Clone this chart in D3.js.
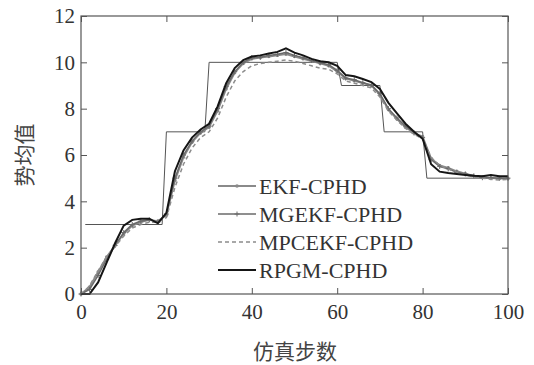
<!DOCTYPE html>
<html><head><meta charset="utf-8">
<script src="https://cdn.jsdelivr.net/npm/d3@7"></script>
<style>body{margin:0;background:#fff}svg{display:block}</style>
</head><body><svg id="c" width="534" height="365"></svg>
<script>
const steps = d3.range(0, 101, 2);
const truthSteps = [1, 19, 20, 29, 30, 60, 61, 70, 71, 80, 81, 100];
const truthVals  = [3, 3, 7, 7, 10, 10, 9, 9, 7, 7, 5, 5];
const ekf = [0.0,0.3,0.95,1.6,2.1,2.6,2.95,3.1,3.2,3.15,3.4,4.9,5.9,6.55,6.95,7.2,7.9,8.85,9.55,9.95,10.15,10.2,10.25,10.3,10.35,10.25,10.15,10.05,9.95,9.85,9.6,9.3,9.2,9.1,9.0,8.6,7.95,7.55,7.2,6.95,6.8,5.85,5.55,5.45,5.3,5.2,5.1,5.05,5.0,4.98,4.98];
const mgekf = [0.0,0.2,0.8,1.5,2.1,2.65,3.0,3.15,3.2,3.1,3.45,5.0,6.0,6.6,7.0,7.25,8.0,8.95,9.6,10.0,10.2,10.22,10.3,10.35,10.42,10.3,10.2,10.08,9.98,9.9,9.65,9.32,9.25,9.12,9.02,8.65,8.0,7.6,7.25,6.95,6.75,5.8,5.5,5.4,5.25,5.18,5.1,5.02,5.02,5.0,5.0];
const mpcekf = [0.0,0.35,1.0,1.6,2.05,2.5,2.85,3.0,3.1,3.1,3.3,4.6,5.6,6.3,6.75,7.0,7.6,8.5,9.2,9.6,9.85,9.95,10.0,10.05,10.1,10.05,9.95,9.85,9.75,9.7,9.5,9.2,9.1,9.0,8.9,8.5,7.9,7.5,7.15,6.9,6.7,5.9,5.55,5.4,5.25,5.15,5.05,5.0,4.95,4.92,4.95];
const rpgm = [0.0,0.0,0.5,1.35,2.2,2.95,3.2,3.25,3.25,3.05,3.5,5.3,6.2,6.75,7.1,7.35,8.1,9.1,9.75,10.1,10.25,10.3,10.38,10.45,10.6,10.42,10.3,10.15,10.05,10.0,9.85,9.45,9.4,9.28,9.15,8.85,8.25,7.8,7.35,7.0,6.7,5.6,5.28,5.22,5.18,5.14,5.1,5.08,5.14,5.08,5.08];
const xTicks = [0, 20, 40, 60, 80, 100];
const yTicks = [0, 2, 4, 6, 8, 10, 12];
const legendNames = ["EKF-CPHD", "MGEKF-CPHD", "MPCEKF-CPHD", "RPGM-CPHD"];

const svg = d3.select("#c");
const L = 81, R = 508, T = 16, B = 294;
const x = d3.scaleLinear().domain([0, 100]).range([L, R]);
const y = d3.scaleLinear().domain([0, 12]).range([B, T]);
const serif = "'Liberation Serif','Times New Roman',serif";
const frameCol = "#555";

function styleAxis(g, showText) {
  g.select(".domain").remove();
  g.selectAll("line").attr("stroke", frameCol).attr("stroke-width", 1);
  if (!showText) g.selectAll("text").remove();
  else g.selectAll("text").attr("font-family", serif).attr("font-size", 21).attr("fill", "#333");
}
svg.append("g").attr("transform", `translate(0,${B})`)
  .call(d3.axisBottom(x).tickValues(xTicks).tickSize(-6).tickPadding(10).tickFormat(d3.format("d")))
  .call(g => styleAxis(g, true));
svg.append("g").attr("transform", `translate(0,${T})`)
  .call(d3.axisTop(x).tickValues(xTicks).tickSize(-6))
  .call(g => styleAxis(g, false));
svg.append("g").attr("transform", `translate(${L},0)`)
  .call(d3.axisLeft(y).tickValues(yTicks).tickSize(-6).tickPadding(6).tickFormat(d3.format("d")))
  .call(g => styleAxis(g, true));
svg.append("g").attr("transform", `translate(${R},0)`)
  .call(d3.axisRight(y).tickValues(yTicks).tickSize(-6))
  .call(g => styleAxis(g, false));

// truth
const truth = truthSteps.map((s, i) => [s, truthVals[i]]);
svg.append("path").datum(truth)
  .attr("d", d3.line().x(d => x(d[0])).y(d => y(d[1])))
  .attr("fill", "none").attr("stroke", "#555").attr("stroke-width", 1);

const line = d3.line().x(d => x(d[0])).y(d => y(d[1]));
const series = [
  {name: legendNames[0], vals: ekf, color: "#8a8a8a", w: 1.8, dash: null, marker: "dot"},
  {name: legendNames[1], vals: mgekf, color: "#6a6a6a", w: 1.5, dash: null, marker: "plus"},
  {name: legendNames[2], vals: mpcekf, color: "#8c8c8c", w: 1.5, dash: "4,3", marker: null},
  {name: legendNames[3], vals: rpgm, color: "#151515", w: 2, dash: null, marker: null}
];
series.forEach(s => {
  const pts = steps.map((st, i) => [st, s.vals[i]]);
  svg.append("path").datum(pts).attr("d", line)
    .attr("fill", "none").attr("stroke", s.color).attr("stroke-width", s.w)
    .attr("stroke-dasharray", s.dash);
  if (s.marker === "dot") {
    svg.append("g").selectAll("circle").data(pts).join("circle")
      .attr("cx", d => x(d[0])).attr("cy", d => y(d[1])).attr("r", 1.7).attr("fill", s.color);
  } else if (s.marker === "plus") {
    svg.append("g").selectAll("path").data(pts).join("path")
      .attr("d", d => `M${x(d[0]) - 2.5},${y(d[1])}h5M${x(d[0])},${y(d[1]) - 2.5}v5`)
      .attr("stroke", s.color).attr("stroke-width", 1);
  }
});

// frame
svg.append("rect").attr("x", L).attr("y", T).attr("width", R - L).attr("height", B - T)
  .attr("fill", "none").attr("stroke", frameCol).attr("stroke-width", 1.2);

// legend
const lg = svg.append("g");
series.forEach((s, i) => {
  const yy = 186 + i * 28;
  lg.append("line").attr("x1", 218).attr("x2", 256).attr("y1", yy).attr("y2", yy)
    .attr("stroke", s.color).attr("stroke-width", s.w).attr("stroke-dasharray", s.dash);
  if (s.marker === "dot") lg.append("circle").attr("cx", 237).attr("cy", yy).attr("r", 1.8).attr("fill", s.color);
  if (s.marker === "plus") lg.append("path").attr("d", `M234.5,${yy}h5M237,${yy - 2.5}v5`).attr("stroke", s.color);
  lg.append("text").attr("x", 259).attr("y", yy).attr("dy", "0.35em")
    .attr("font-family", serif).attr("font-size", 22).attr("fill", "#333").text(s.name);
});

// axis titles
svg.append("text").attr("x", 295).attr("y", 352).attr("dy", "0.35em").attr("text-anchor", "middle")
  .attr("font-family", "'Noto Sans CJK SC',sans-serif").attr("font-size", 21).attr("fill", "#444").text("仿真步数");
svg.append("text").attr("transform", "translate(25,155) rotate(-90)").attr("dy", "0.35em").attr("text-anchor", "middle")
  .attr("font-family", "'Noto Sans CJK SC',sans-serif").attr("font-size", 21).attr("fill", "#444").text("势均值");
</script></body></html>
